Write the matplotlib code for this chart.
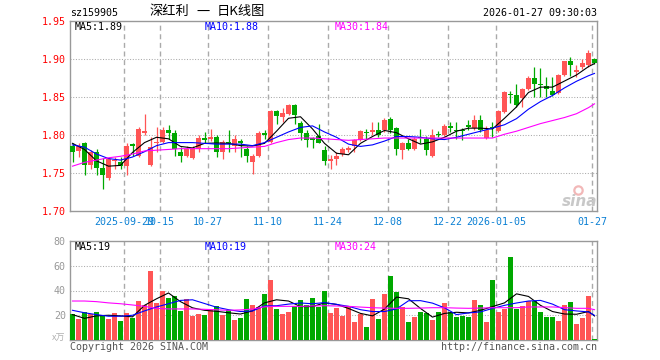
import matplotlib
matplotlib.use("Agg")
import matplotlib.pyplot as plt

# Données (sz159905, K journalier)
dates = ["09-16", "09-17", "09-18", "09-19", "09-22", "09-23", "09-24", "09-25", "09-26", "09-29",
         "09-30", "10-09", "10-10", "10-13", "10-14", "10-15", "10-16", "10-17", "10-20", "10-21",
         "10-22", "10-23", "10-24", "10-27", "10-28", "10-29", "10-30", "10-31", "11-03", "11-04",
         "11-05", "11-06", "11-07", "11-10", "11-11", "11-12", "11-13", "11-14", "11-17", "11-18",
         "11-19", "11-20", "11-21", "11-24", "11-25", "11-26", "11-27", "11-28", "12-01", "12-02",
         "12-03", "12-04", "12-05", "12-08", "12-09", "12-10", "12-11", "12-12", "12-15", "12-16",
         "12-17", "12-18", "12-19", "12-22", "12-23", "12-24", "12-25", "12-26", "12-29", "12-30",
         "12-31", "01-05", "01-06", "01-07", "01-08", "01-09", "01-12", "01-13", "01-14", "01-15",
         "01-16", "01-19", "01-20", "01-21", "01-22", "01-23", "01-26", "01-27"]

opens = [1.786, 1.7785, 1.789, 1.760, 1.778, 1.757, 1.743, 1.7655, 1.764, 1.759,
         1.7875, 1.773, 1.802, 1.760, 1.789, 1.791, 1.807, 1.803, 1.778, 1.773,
         1.770, 1.782, 1.7965, 1.795, 1.797, 1.777, 1.791, 1.786, 1.792, 1.781,
         1.765, 1.772, 1.8025, 1.791, 1.832, 1.824, 1.828, 1.839, 1.816, 1.802,
         1.796, 1.799, 1.780, 1.766, 1.769, 1.775, 1.780, 1.785, 1.794, 1.804,
         1.804, 1.8065, 1.806, 1.821, 1.809, 1.780, 1.790, 1.781, 1.797, 1.795,
         1.772, 1.8015, 1.7995, 1.8115, 1.807, 1.807, 1.8125, 1.809, 1.820, 1.796,
         1.8105, 1.805, 1.830, 1.8545, 1.852, 1.849, 1.860, 1.875, 1.867, 1.8645,
         1.858, 1.855, 1.879, 1.8975, 1.8835, 1.889, 1.8915, 1.900]
highs = [1.789, 1.789, 1.791, 1.780, 1.781, 1.770, 1.771, 1.771, 1.771, 1.789,
         1.789, 1.8105, 1.827, 1.798, 1.810, 1.810, 1.813, 1.807, 1.784, 1.785,
         1.786, 1.7995, 1.804, 1.808, 1.7995, 1.793, 1.806, 1.7995, 1.795, 1.786,
         1.775, 1.805, 1.806, 1.833, 1.833, 1.835, 1.841, 1.841, 1.819, 1.806,
         1.798, 1.815, 1.786, 1.774, 1.778, 1.784, 1.786, 1.795, 1.806, 1.808,
         1.817, 1.817, 1.823, 1.824, 1.811, 1.791, 1.795, 1.797, 1.808, 1.7985,
         1.8075, 1.805, 1.814, 1.8165, 1.8175, 1.809, 1.820, 1.8265, 1.8265, 1.812,
         1.817, 1.833, 1.8575, 1.8575, 1.8665, 1.862, 1.877, 1.8895, 1.8885, 1.876,
         1.876, 1.8805, 1.898, 1.903, 1.8915, 1.9005, 1.9115, 1.901]
lows = [1.764, 1.771, 1.748, 1.755, 1.748, 1.729, 1.741, 1.755, 1.755, 1.748,
        1.773, 1.771, 1.800, 1.759, 1.778, 1.789, 1.795, 1.773, 1.764, 1.771,
        1.769, 1.778, 1.789, 1.792, 1.771, 1.768, 1.778, 1.778, 1.771, 1.764,
        1.749, 1.771, 1.795, 1.789, 1.814, 1.817, 1.826, 1.815, 1.794, 1.784,
        1.783, 1.789, 1.760, 1.7555, 1.761, 1.772, 1.778, 1.778, 1.792, 1.795,
        1.800, 1.797, 1.804, 1.803, 1.774, 1.769, 1.780, 1.780, 1.790, 1.774,
        1.771, 1.797, 1.799, 1.804, 1.795, 1.794, 1.806, 1.807, 1.804, 1.795,
        1.797, 1.804, 1.829, 1.842, 1.837, 1.837, 1.859, 1.8505, 1.8495, 1.8505,
        1.8515, 1.854, 1.877, 1.877, 1.8765, 1.8865, 1.890, 1.893]
closes = [1.777, 1.7855, 1.761, 1.778, 1.756, 1.747, 1.769, 1.767, 1.759, 1.7855,
          1.786, 1.808, 1.805, 1.784, 1.791, 1.807, 1.803, 1.782, 1.772, 1.781,
          1.783, 1.796, 1.794, 1.797, 1.778, 1.791, 1.789, 1.795, 1.789, 1.772,
          1.772, 1.802, 1.7995, 1.832, 1.825, 1.829, 1.840, 1.826, 1.803, 1.794,
          1.794, 1.790, 1.766, 1.768, 1.773, 1.781, 1.783, 1.793, 1.805, 1.8025,
          1.8065, 1.7995, 1.820, 1.806, 1.781, 1.790, 1.782, 1.795, 1.7955, 1.780,
          1.7995, 1.800, 1.812, 1.809, 1.8055, 1.805, 1.810, 1.820, 1.807, 1.807,
          1.809, 1.832, 1.8565, 1.853, 1.839, 1.860, 1.875, 1.867, 1.8655, 1.861,
          1.853, 1.879, 1.897, 1.892, 1.885, 1.8945, 1.908, 1.8945]
volumes = [20.8, 16.8, 22.4, 20.8, 22.4, 20, 16.8, 21.6, 15.2, 21.6,
           17.6, 31.2, 28, 56, 29.6, 39.2, 33.6, 35.2, 23.2, 32.8,
           19.2, 20.8, 20, 24, 27.2, 20, 24, 16, 17.6, 32.8,
           28, 26.4, 36.8, 48.8, 24.8, 20.8, 22.4, 27.2, 32, 28,
           33.6, 26.4, 39.2, 21.6, 25.6, 19.2, 27.2, 14.4, 20.8, 10.4,
           32.8, 16.8, 36.8, 52, 38.4, 26.4, 14.4, 18.4, 22.4, 21.6,
           16, 22.4, 29.6, 22.4, 18.4, 19.2, 18.4, 32, 28, 14.4,
           48.8, 22.4, 24.8, 67.2, 24.8, 27.2, 31.2, 31.2, 22.4, 18.4,
           18.4, 15.2, 28, 30.4, 12.8, 17.6, 35.2, 0.8]

# Moyennes mobiles relevées un jour sur deux (+ dernier jour)
ma_idx = list(range(0, 88, 2)) + [87]
ma5 = [1.789, 1.781, 1.766, 1.759, 1.760, 1.777, 1.790, 1.797, 1.795, 1.785,
       1.783, 1.789, 1.7895, 1.789, 1.786, 1.7855, 1.789, 1.805, 1.822, 1.824,
       1.808, 1.789, 1.776, 1.774, 1.789, 1.798, 1.806, 1.803, 1.795, 1.788,
       1.791, 1.797, 1.805, 1.809, 1.809, 1.808, 1.822, 1.837, 1.856, 1.863,
       1.863, 1.871, 1.879, 1.890, 1.894]
ma10 = [1.787, 1.784, 1.775, 1.769, 1.767, 1.771, 1.778, 1.786, 1.790, 1.790,
        1.790, 1.789, 1.788, 1.788, 1.788, 1.786, 1.790, 1.797, 1.804, 1.810,
        1.812, 1.804, 1.797, 1.788, 1.785, 1.787, 1.792, 1.798, 1.798, 1.797,
        1.795, 1.794, 1.797, 1.801, 1.805, 1.809, 1.8135, 1.8215, 1.834, 1.844,
        1.852, 1.862, 1.8707, 1.878, 1.881]
ma30 = [1.759, 1.764, 1.767, 1.770, 1.772, 1.775, 1.779, 1.780, 1.781, 1.782,
        1.782, 1.782, 1.782, 1.782, 1.783, 1.784, 1.785, 1.790, 1.794, 1.796,
        1.796, 1.795, 1.794, 1.793, 1.794, 1.795, 1.796, 1.796, 1.796, 1.796,
        1.796, 1.796, 1.796, 1.796, 1.796, 1.796, 1.801, 1.805, 1.810, 1.815,
        1.819, 1.823, 1.828, 1.836, 1.841]
vma5 = [20.5, 17.5, 19.5, 20, 19.5, 18.7, 28, 33.3, 38, 31,
        26, 24, 23.2, 22, 21, 23.5, 30, 32.5, 31.5, 27,
        27, 30, 28.8, 25.5, 21.5, 19.5, 25, 34.7, 33.3, 25.5,
        18.5, 21.5, 22.4, 21.9, 24, 27, 30, 37.3, 35.2, 28,
        23, 21, 20.8, 23, 19.4]
vma10 = [24, 22, 20.5, 19.2, 19.2, 20, 23.5, 26.7, 29.3, 32,
         32.5, 29.5, 26.5, 24.5, 23, 23.5, 27.5, 27.7, 29, 29.9,
         29.3, 30.2, 28.8, 27.2, 24.5, 23, 23, 25.1, 31.7, 31.8,
         29.8, 26, 20.5, 21.9, 22.7, 25.5, 28, 29.9, 31.5, 32,
         29, 24.5, 23.5, 22.7, 19.9]
vma30 = [31.5, 31.5, 31, 30, 29.3, 28.3, 27.2, 25.5, 25.1, 25.1,
         25.1, 24.8, 24.4, 24, 24.3, 25, 26.8, 27.2, 27.2, 27.2,
         27.5, 27.7, 27.5, 27.2, 26.6, 26.1, 25.8, 25.6, 25.6, 25.8,
         26.1, 26.1, 25.8, 25.6, 25.8, 26.1, 26.1, 26.1, 26.7, 26.7,
         26.7, 26.2, 25.6, 25.6, 24.5]

tick_dates = ["09-29", "10-15", "10-27", "11-10", "11-24", "12-08", "12-22", "01-05", "01-27"]
tick_labels = ["2025-09-29", "10-15", "10-27", "11-10", "11-24", "12-08", "12-22", "2026-01-05", "01-27"]
price_ticks = [1.70, 1.75, 1.80, 1.85, 1.90, 1.95]
vol_ticks = [20, 40, 60, 80]

RED = "#ff5555"
GREEN = "#00a800"
GRID = "#aaaaaa"
XBLUE = "#0b80d4"

plt.rcParams['font.family'] = ['DejaVu Sans Mono']
W, H = 660, 360
FS = 7.2


def fx(x):
    return x / W


def fy(y):
    return 1 - y / H


fig = plt.figure(figsize=(6.6, 3.6), dpi=100)
ax = fig.add_axes([fx(70), fy(211), 527 / W, 190 / H])
axv = fig.add_axes([fx(70), fy(340), 527 / W, 99 / H])

n = len(closes)
xs = list(range(n))
colors = [RED if c >= o else GREEN for o, c in zip(opens, closes)]
bottoms = [min(o, c) for o, c in zip(opens, closes)]
heights = [max(abs(c - o), 0.0013) for o, c in zip(opens, closes)]
grid_x = [dates.index(d) - 0.38 for d in tick_dates]

for a in (ax, axv):
    a.set_xlim(-0.4167, n - 0.5833)
    for gx in grid_x:
        a.axvline(gx, color=GRID, lw=1.0, ls=(0, (3.6, 2.6)), zorder=0)
    for s in a.spines.values():
        s.set_color("#999999")
        s.set_linewidth(1.0)
    a.tick_params(length=0, labelsize=FS)

# Bougies
ax.vlines(xs, lows, highs, colors=colors, lw=0.9, zorder=2)
ax.bar(xs, heights, bottom=bottoms, width=5 / 6, color=colors, lw=0, zorder=3)
ax.plot(ma_idx, ma5, color="black", lw=0.8, zorder=4)
ax.plot(ma_idx, ma10, color="#0000ff", lw=0.8, zorder=4)
ax.plot(ma_idx, ma30, color="#ff00ff", lw=0.8, zorder=4)
for v in price_ticks[1:-1]:
    ax.axhline(v, color=GRID, lw=0.75, ls=(0, (1, 1.6)), zorder=0)
ax.set_ylim(1.70, 1.95)
ax.set_yticks(price_ticks, [f"{v:.2f}" for v in price_ticks])
ax.tick_params(axis="y", labelcolor="red", pad=3)
ax.set_xticks(grid_x, tick_labels)
ax.tick_params(axis="x", labelcolor=XBLUE, pad=4)

# Filigrane sina (oeil dessiné comme un cercle)
ax.plot([0.9645], [0.11], marker="o", ms=6, mfc="none", mec="#f2b8b8", mew=1.6,
        transform=ax.transAxes, zorder=1, clip_on=False)
ax.text(0.967, 0.05, "sina", family=["DejaVu Sans"], fontsize=11, fontweight="bold",
        style="italic", ha="center", va="center", color="#c8c8c8", zorder=1,
        transform=ax.transAxes)

# Volumes
axv.bar(xs, volumes, width=5 / 6, color=colors, lw=0, zorder=3)
axv.plot(ma_idx, vma5, color="black", lw=0.8, zorder=4)
axv.plot(ma_idx, vma10, color="#0000ff", lw=0.8, zorder=4)
axv.plot(ma_idx, vma30, color="#ff00ff", lw=0.8, zorder=4)
for v in vol_ticks[:-1]:
    axv.axhline(v, color=GRID, lw=0.75, ls=(0, (1, 1.6)), zorder=0)
axv.set_ylim(0, 80)
axv.set_yticks(vol_ticks, [str(v) for v in vol_ticks])
axv.tick_params(axis="y", labelcolor="#999999", pad=3)
axv.set_xticks([])

# Textes d'en-tête
fig.text(fx(70), fy(13.5), "sz159905", fontsize=FS, va="center")
cjk = ["Noto Sans CJK SC", "DejaVu Sans"]
fig.text(fx(149), fy(12), "深红利", family=cjk, fontsize=9.5, va="center")
fig.text(fx(203), fy(12), "一", family=cjk, fontsize=9.5, va="center", ha="center")
fig.text(fx(217), fy(12), "日K线图", family=cjk, fontsize=9.5, va="center")
fig.text(fx(597), fy(13), "2026-01-27 09:30:03", fontsize=FS, va="center", ha="right")

fig.text(fx(75), fy(26.5), f"MA5:{ma5[-1]:.2f}", fontsize=FS, va="center", color="black")
fig.text(fx(205), fy(26.5), f"MA10:{ma10[-1]:.2f}", fontsize=FS, va="center", color="#0000ff")
fig.text(fx(335), fy(26.5), f"MA30:{ma30[-1]:.2f}", fontsize=FS, va="center", color="#ff00ff")
fig.text(fx(75), fy(246.5), f"MA5:{int(vma5[-1])}", fontsize=FS, va="center", color="black")
fig.text(fx(205), fy(246.5), f"MA10:{int(vma10[-1])}", fontsize=FS, va="center", color="#0000ff")
fig.text(fx(335), fy(246.5), f"MA30:{int(vma30[-1])}", fontsize=FS, va="center", color="#ff00ff")

fig.text(fx(65), fy(338), "x万", family=cjk, fontsize=6.5, va="center", ha="right", color="#b0b0b0")
fig.text(fx(70), fy(346.5), "Copyright 2026 SINA.COM", fontsize=FS, va="center", color="#555555")
fig.text(fx(597), fy(346.5), "http://finance.sina.com.cn", fontsize=FS, va="center", ha="right",
         color="#555555")

fig.savefig("out.png", dpi=100, facecolor="white")
